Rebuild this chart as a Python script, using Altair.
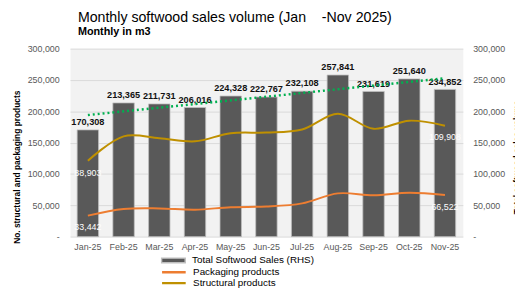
import json
import altair as alt
import pandas as pd

months = ['Jan-25', 'Feb-25', 'Mar-25', 'Apr-25', 'May-25', 'Jun-25',
          'Jul-25', 'Aug-25', 'Sep-25', 'Oct-25', 'Nov-25']
total_sales = [170308, 213365, 211731, 206016, 224328, 222767,
               232108, 257841, 231619, 251640, 234852]
packaging = [33442, 44000, 45000, 43000, 47000, 48000,
             53000, 69000, 66000, 70000, 66522]
structural = [121000, 160000, 157000, 152000, 165000, 166000,
              171000, 196000, 172000, 185000, 177000]

label_months = ['Jan-25', 'Nov-25', 'Jan-25', 'Nov-25']
label_series = ['Structural products', 'Structural products',
                'Packaging products', 'Packaging products']
label_numbers = [88903, 109908, 33442, 66522]

BAR_NAME = 'Total Softwood Sales (RHS)'
line_names = ['Packaging products', 'Structural products']
line_colors = ['#ED7D31', '#BF9000']
FONT = 'Liberation Sans'
AX_COLOR = '#595959'
TICKS = [0, 50000, 100000, 150000, 200000, 250000, 300000]
LBL_EXPR = "datum.value == 0 ? '-' : format(datum.value, ',')"
NB = '\u00a0'

bars_df = pd.DataFrame({'month': months, 'idx': list(range(len(months))),
                        'total': total_sales, 'series': BAR_NAME})

lines_df = pd.concat([
    pd.DataFrame({'month': months, 'series': 'Packaging products', 'value': packaging}),
    pd.DataFrame({'month': months, 'series': 'Structural products', 'value': structural}),
], ignore_index=True)

lab_df = pd.DataFrame({'month': label_months, 'series': label_series,
                       'label': label_numbers})
lab_df = lab_df.merge(lines_df, on=['month', 'series'])

x_enc = alt.X('month:N', sort=months,
              scale=alt.Scale(paddingInner=0.4, paddingOuter=0.2),
              axis=alt.Axis(title=None, labelAngle=0, domain=False, ticks=False,
                            labelColor=AX_COLOR, labelFontSize=9, labelFont=FONT,
                            labelPadding=6))

y_right = alt.Y('total:Q', scale=alt.Scale(domain=[0, 300000], nice=False),
                axis=alt.Axis(orient='right', values=TICKS, tickCount=20,
                              labelExpr=LBL_EXPR, labelOverlap=False,
                              title='Total softwood sales volume', titleAngle=270,
                              titleFont=FONT, titleFontSize=8.5, titleFontWeight='bold',
                              titleColor='#000', titlePadding=17, titleY=110,
                              grid=False, domain=False, ticks=False,
                              labelColor=AX_COLOR, labelFontSize=9, labelFont=FONT,
                              labelPadding=10))

bars = alt.Chart(bars_df).mark_bar(stroke='#BFBFBF', strokeWidth=0.8).encode(
    x=x_enc,
    y=y_right,
    color=alt.Color('series:N', scale=alt.Scale(domain=[BAR_NAME], range=['#595959']),
                    legend=alt.Legend(title=None, orient='none', legendX=92, legendY=210,
                                      symbolType='M-1,-0.2H1V0.2H-1Z', symbolSize=576,
                                      clipHeight=10.5, labelFontSize=10, labelFont=FONT,
                                      labelColor='#000', labelOffset=6, padding=0)),
)

bar_text = alt.Chart(bars_df).mark_text(
    baseline='bottom', dy=-3, font=FONT, fontSize=9.3, fontWeight='bold', color='#111'
).encode(x=x_enc, y=y_right, text=alt.Text('total:Q', format=','))

trend = alt.Chart(bars_df).transform_regression(
    'idx', 'total', method='linear'
).transform_calculate(
    month=f"{json.dumps(months)}[datum.idx]"
).mark_line(color='#00B050', strokeDash=[2, 3], strokeWidth=2.5).encode(
    x=x_enc, y=y_right)

right_group = alt.layer(bars, bar_text, trend)

y_left = alt.Y('value:Q', scale=alt.Scale(domain=[0, 300000], nice=False),
               axis=alt.Axis(orient='left', values=TICKS, tickCount=20,
                             labelExpr=LBL_EXPR, labelOverlap=False,
                             title='No. structural and packaging products',
                             titleFont=FONT, titleFontSize=8.5, titleFontWeight='bold',
                             titleColor='#000', titlePadding=6, titleY=120,
                             grid=True, gridColor='#D9D9D9', gridWidth=1,
                             domain=False, ticks=False,
                             labelColor=AX_COLOR, labelFontSize=9, labelFont=FONT,
                             labelPadding=11))

lines = alt.Chart(lines_df).mark_line(strokeWidth=2, interpolate='catmull-rom').encode(
    x=x_enc,
    y=y_left,
    stroke=alt.Stroke('series:N', scale=alt.Scale(domain=line_names, range=line_colors),
                      legend=alt.Legend(title=None, orient='none', legendX=92, legendY=222,
                                        direction='vertical', symbolType='stroke',
                                        symbolSize=576, symbolStrokeWidth=2.5,
                                        clipHeight=10.5, rowPadding=-1,
                                        labelFontSize=10, labelFont=FONT,
                                        labelColor='#000', labelOffset=6, padding=0)),
)

line_text = alt.Chart(lab_df).mark_text(
    dy=12, font=FONT, fontSize=9, color='white'
).encode(x=x_enc, y=y_left, text=alt.Text('label:Q', format=','))

left_group = alt.layer(lines, line_text)

chart = alt.layer(right_group, left_group).resolve_scale(
    y='independent', color='independent'
).properties(
    width=399, height=191,
    autosize=alt.AutoSizeParams(type='none'),
    padding={'left': 63, 'top': 39, 'right': 53, 'bottom': 53},
    title=alt.TitleParams(text=f'Monthly softwood sales volume (Jan{NB*4}-Nov 2025)',
                          subtitle='Monthly in m3', anchor='start', frame='group', dx=8,
                          font=FONT, fontSize=14.4, fontWeight='normal', color='#000',
                          subtitleFont=FONT, subtitleFontSize=11,
                          subtitleFontWeight='bold', subtitleColor='#000',
                          subtitlePadding=1, offset=7),
).configure_view(fill='#F2F2F2', stroke='transparent')

chart.save('out.html', embed_options={'renderer': 'svg', 'actions': False})
